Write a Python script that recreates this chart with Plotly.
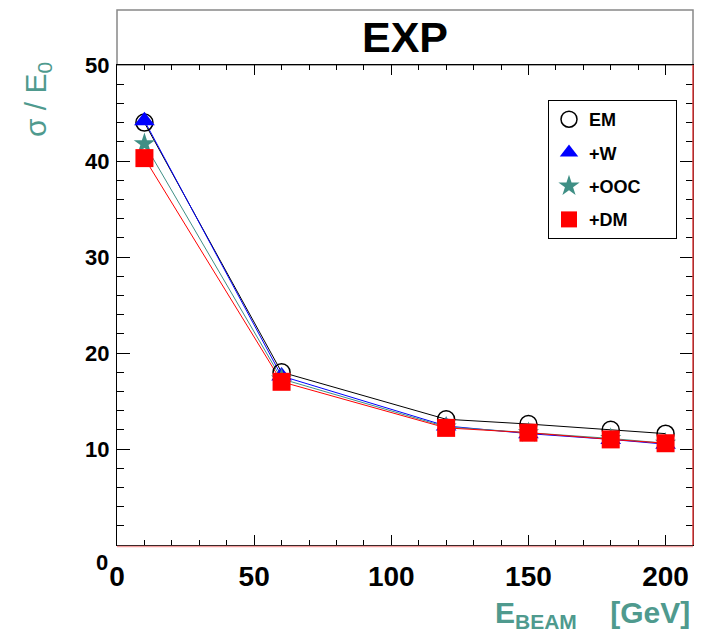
import plotly.graph_objects as go

# ---- data ----
energy = [10, 60, 120, 150, 180, 200]
em = [44.0, 18.0, 13.1, 12.6, 12.0, 11.6]
w = [44.2, 17.6, 12.4, 11.6, 11.0, 10.5]
ooc = [41.8, 17.3, 12.3, 11.7, 11.1, 10.6]
dm = [40.3, 17.0, 12.2, 11.7, 11.0, 10.6]

series_names = ["EM", "+W", "+OOC", "+DM"]
x_ticks = [0, 50, 100, 150, 200]
y_ticks = [10, 20, 30, 40, 50]

TEAL = "#4f9a8e"
styles = [
    dict(color="black", symbol="circle-open", size=17, lw=1),
    dict(color="#0000ff", symbol="triangle-up", size=18, lw=1),
    dict(color="#3f8f85", symbol="star", size=16, lw=1),
    dict(color="#ff0000", symbol="square", size=18, lw=1),
]
values = [em, w, ooc, dm]

fig = go.Figure()
# lines (no legend)
for name, vals, st in zip(series_names, values, styles):
    fig.add_trace(go.Scatter(x=energy, y=vals, mode="lines",
                             line=dict(color=st["color"], width=st["lw"]),
                             showlegend=False, hoverinfo="skip"))
# markers (legend)
for i, (name, vals, st) in enumerate(zip(series_names, values, styles)):
    fig.add_trace(go.Scatter(x=energy, y=vals, mode="markers",
                             name=name + "&nbsp;" * 6, legendgroup=f"g{i}",
                             marker=dict(color=st["color"], symbol=st["symbol"],
                                         size=st["size"],
                                         line=dict(color=st["color"], width=1.5 if st["symbol"] == "circle-open" else 0))))

L, R, T, B = 117, 11, 65, 96
W, H = 704, 641
ph = H - T - B

fig.update_layout(
    width=W, height=H,
    margin=dict(l=L, r=R, t=T, b=B, autoexpand=False),
    paper_bgcolor="white", plot_bgcolor="white",
    font=dict(family="Liberation Sans, Arial, sans-serif", color="black"),
    showlegend=True,
    legend=dict(x=(548 - L) / (W - L - R), y=(545 - 100) / ph, xanchor="left", yanchor="top",
                bordercolor="black", borderwidth=1, bgcolor="white",
                font=dict(size=18, weight="bold"), itemsizing="trace", itemwidth=30,
                tracegroupgap=7),
)

fig.update_xaxes(range=[0, 210], tickvals=x_ticks, ticks="inside", ticklen=10,
                 tickcolor="black", showline=True, linecolor="black", linewidth=1,
                 mirror="allticks", showgrid=False, zeroline=False,
                 tickfont=dict(size=28, weight="bold", color="black"),
                 ticklabelstandoff=6,
                 minor=dict(dtick=10, ticks="inside", ticklen=5, tickcolor="black", showgrid=False))
fig.update_yaxes(range=[0, 50], tickvals=y_ticks, ticks="inside", ticklen=13,
                 tickcolor="black", showline=True, linecolor="black", linewidth=1,
                 mirror="allticks", showgrid=False, zeroline=False,
                 tickfont=dict(size=22, weight="bold", color="black"),
                 ticklabelstandoff=2,
                 minor=dict(dtick=2, ticks="inside", ticklen=7, tickcolor="black", showgrid=False))

# title box
fig.add_shape(type="rect", xref="paper", yref="paper", x0=0, x1=1, y0=1, y1=1 + 55 / ph,
              line=dict(color="#888888", width=1.5), fillcolor="white", layer="below")
fig.add_annotation(text="<b>EXP</b>", xref="paper", yref="paper", x=0.5, y=1 + 28 / ph,
                   showarrow=False, font=dict(size=43, color="black"), xanchor="center", yanchor="middle")
# red right edge / pink bottom edge
fig.add_shape(type="line", xref="paper", yref="paper", x0=1, x1=1, y0=0, y1=1,
              line=dict(color="#e04040", width=1.5))
fig.add_shape(type="line", xref="paper", yref="paper", x0=0, x1=1, y0=-1.5 / ph, y1=-1.5 / ph,
              line=dict(color="#f4a0a0", width=1.5))

# y-axis "0" label
fig.add_annotation(text="<b>0</b>", xref="paper", yref="y", x=0, y=0, xanchor="right",
                   yanchor="middle", xshift=-7, yshift=-17, showarrow=False,
                   font=dict(size=22, color="black"))

# axis titles
fig.add_annotation(text="σ / E<sub>0</sub>", xref="paper", yref="paper",
                   x=-(L - 38) / (W - L - R), y=(545 - 100) / ph, textangle=-90,
                   showarrow=False, font=dict(size=30, color=TEAL),
                   xanchor="center", yanchor="middle")
fig.add_annotation(text="<b>E<sub>BEAM</sub>&nbsp;&nbsp;&nbsp;&nbsp;[GeV]</b>", xref="paper", yref="paper",
                   x=(692 - L) / (W - L - R), y=-(614 - 545) / ph, xanchor="right",
                   yanchor="middle", showarrow=False, font=dict(size=30, color=TEAL))

fig.write_html("out.html")
